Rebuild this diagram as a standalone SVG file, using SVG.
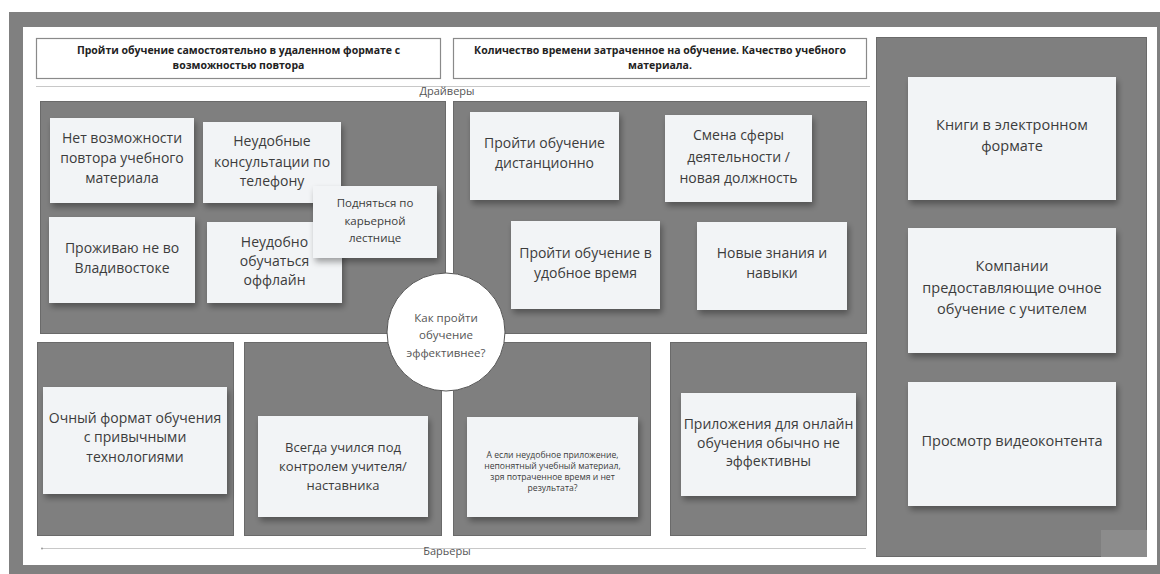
<svg xmlns="http://www.w3.org/2000/svg" width="1160" height="574" viewBox="0 0 1160 574">
  <defs>
    <filter id="sh" x="-10%" y="-10%" width="125%" height="135%">
      <feDropShadow dx="2" dy="4" stdDeviation="3" flood-color="#000" flood-opacity="0.35"/>
    </filter>
    <style>
      .panel{fill:#7f7f7f;stroke:#6a6a6a;stroke-width:1}
      .hdr{fill:#fff;stroke:#8a8a8a;stroke-width:1.2}
      .hdrt{font-family:"Open Sans","Liberation Sans",sans-serif;font-size:10.5px;font-weight:bold;fill:#222;text-anchor:middle}
      .note{fill:#f2f4f6;filter:url(#sh)}
      .t{font-family:"Open Sans","Liberation Sans",sans-serif;font-size:14px;fill:#3c3c3c;text-anchor:middle}
      .ts{font-family:"Open Sans","Liberation Sans",sans-serif;font-size:11.5px;fill:#3c3c3c;text-anchor:middle}
      .tx{font-family:"Open Sans","Liberation Sans",sans-serif;font-size:8.6px;fill:#3c3c3c;text-anchor:middle}
      .lbl{font-family:"Open Sans","Liberation Sans",sans-serif;font-size:11px;fill:#555;text-anchor:middle}
      .sep{stroke:#c8c8c8;stroke-width:1}
    </style>
  </defs>

  <rect x="0" y="0" width="1160" height="574" fill="#fff"/>
  <rect x="9" y="12" width="1151" height="562" fill="#808080"/>
  <rect x="23" y="27" width="1134" height="538" fill="#fff"/>

  <!-- headers -->
  <g id="header-goal">
    <rect class="hdr" x="36.5" y="38.5" width="404" height="40"/>
    <text class="hdrt" x="238.5" y="54">Пройти обучение самостоятельно в удаленном формате с</text>
    <text class="hdrt" x="238.5" y="69">возможностью повтора</text>
  </g>
  <g id="header-metric">
    <rect class="hdr" x="453.5" y="38.5" width="413" height="40"/>
    <text class="hdrt" x="660" y="54">Количество времени затраченное на обучение. Качество учебного</text>
    <text class="hdrt" x="660" y="69">материала.</text>
  </g>

  <!-- separators / labels -->
  <g id="connectors">
    <line class="sep" x1="36" y1="86.5" x2="870" y2="86.5"/>
    <line class="sep" x1="42" y1="548.5" x2="866" y2="548.5"/>
    <circle cx="42" cy="548.5" r="1" fill="#999"/>
  </g>
  <g id="label-drivers"><text class="lbl" x="447" y="95">Драйверы</text></g>
  <g id="label-barriers"><text class="lbl" x="447" y="555">Барьеры</text></g>

  <!-- panels -->
  <g id="panel-drivers-left"><rect class="panel" x="40.5" y="101.5" width="405" height="232"/></g>
  <g id="panel-drivers-right"><rect class="panel" x="453.5" y="101.5" width="413" height="232"/></g>
  <g id="panel-barrier-1"><rect class="panel" x="37.5" y="342.5" width="196" height="193"/></g>
  <g id="panel-barrier-2"><rect class="panel" x="244.5" y="342.5" width="197" height="193"/></g>
  <g id="panel-barrier-3"><rect class="panel" x="453.5" y="342.5" width="197" height="193"/></g>
  <g id="panel-barrier-4"><rect class="panel" x="670.5" y="342.5" width="196" height="193"/></g>
  <g id="panel-alternatives">
    <rect class="panel" x="876.5" y="37.5" width="270" height="519"/>
    <rect x="1101" y="530" width="46" height="27" fill="#8c8c8c"/>
  </g>

  <!-- driver notes left -->
  <g id="note-no-repeat">
    <rect class="note" x="50" y="118" width="144" height="85"/>
    <text class="t" x="122" y="143">Нет возможности</text>
    <text class="t" x="122" y="163">повтора учебного</text>
    <text class="t" x="122" y="183">материала</text>
  </g>
  <g id="note-phone">
    <rect class="note" x="203" y="122" width="138" height="81"/>
    <text class="t" x="272" y="146">Неудобные</text>
    <text class="t" x="272" y="167">консультации по</text>
    <text class="t" x="272" y="186">телефону</text>
  </g>
  <g id="note-not-vladivostok">
    <rect class="note" x="49" y="217" width="146" height="86"/>
    <text class="t" x="122" y="253">Проживаю не во</text>
    <text class="t" x="122" y="273">Владивостоке</text>
  </g>
  <g id="note-offline">
    <rect class="note" x="207" y="222" width="135" height="81"/>
    <text class="t" x="274.5" y="247">Неудобно</text>
    <text class="t" x="274.5" y="266">обучаться</text>
    <text class="t" x="274.5" y="285">оффлайн</text>
  </g>
  <g id="note-career">
    <rect class="note" x="313" y="186" width="124" height="72"/>
    <text class="ts" x="375" y="207">Подняться по</text>
    <text class="ts" x="375" y="225">карьерной</text>
    <text class="ts" x="375" y="242">лестнице</text>
  </g>

  <!-- driver notes right -->
  <g id="note-remote">
    <rect class="note" x="470" y="112" width="149" height="88"/>
    <text class="t" x="544.5" y="148">Пройти обучение</text>
    <text class="t" x="544.5" y="168">дистанционно</text>
  </g>
  <g id="note-career-change">
    <rect class="note" x="665" y="115" width="147" height="87"/>
    <text class="t" x="738.5" y="140">Смена сферы</text>
    <text class="t" x="738.5" y="162">деятельности /</text>
    <text class="t" x="738.5" y="183">новая должность</text>
  </g>
  <g id="note-convenient-time">
    <rect class="note" x="511" y="221" width="149" height="88"/>
    <text class="t" x="585.5" y="258">Пройти обучение в</text>
    <text class="t" x="585.5" y="278">удобное время</text>
  </g>
  <g id="note-new-skills">
    <rect class="note" x="697" y="222" width="150" height="88"/>
    <text class="t" x="772" y="258">Новые знания и</text>
    <text class="t" x="772" y="278">навыки</text>
  </g>

  <!-- barrier notes -->
  <g id="note-in-person">
    <rect class="note" x="43" y="387" width="184" height="107"/>
    <text class="t" x="135" y="423">Очный формат обучения</text>
    <text class="t" x="135" y="442">с привычными</text>
    <text class="t" x="135" y="462">технологиями</text>
  </g>
  <g id="note-teacher">
    <rect class="note" x="258" y="416" width="170" height="101"/>
    <text class="t" x="343" y="452" style="font-size:13px">Всегда учился под</text>
    <text class="t" x="343" y="471" style="font-size:13px">контролем учителя/</text>
    <text class="t" x="343" y="490" style="font-size:13px">наставника</text>
  </g>
  <g id="note-what-if">
    <rect class="note" x="467" y="417" width="171" height="100"/>
    <text class="tx" x="552.5" y="458">А если неудобное приложение,</text>
    <text class="tx" x="552.5" y="469">непонятный учебный материал,</text>
    <text class="tx" x="552.5" y="480">зря потраченное время и нет</text>
    <text class="tx" x="552.5" y="491">результата?</text>
  </g>
  <g id="note-apps">
    <rect class="note" x="681" y="393" width="175" height="103"/>
    <text class="t" x="768.5" y="429">Приложения для онлайн</text>
    <text class="t" x="768.5" y="448">обучения обычно не</text>
    <text class="t" x="768.5" y="466">эффективны</text>
  </g>

  <!-- alternatives -->
  <g id="note-ebooks">
    <rect class="note" x="908" y="77" width="208" height="123"/>
    <text class="t" x="1012" y="130" style="font-size:14.5px">Книги в электронном</text>
    <text class="t" x="1012" y="151" style="font-size:14.5px">формате</text>
  </g>
  <g id="note-companies">
    <rect class="note" x="908" y="228" width="208" height="125"/>
    <text class="t" x="1012" y="271" style="font-size:14.5px">Компании</text>
    <text class="t" x="1012" y="293" style="font-size:14.5px">предоставляющие очное</text>
    <text class="t" x="1012" y="314" style="font-size:14.5px">обучение с учителем</text>
  </g>
  <g id="note-video">
    <rect class="note" x="908" y="382" width="208" height="124"/>
    <text class="t" x="1012" y="446" style="font-size:14.5px">Просмотр видеоконтента</text>
  </g>

  <!-- center question -->
  <g id="question">
    <circle cx="446" cy="332" r="59" fill="#fff" stroke="#555" stroke-width="1"/>
    <text class="ts" x="446" y="322" style="fill:#555">Как пройти</text>
    <text class="ts" x="446" y="339" style="fill:#555">обучение</text>
    <text class="ts" x="446" y="357" style="fill:#555">эффективнее?</text>
  </g>
</svg>
